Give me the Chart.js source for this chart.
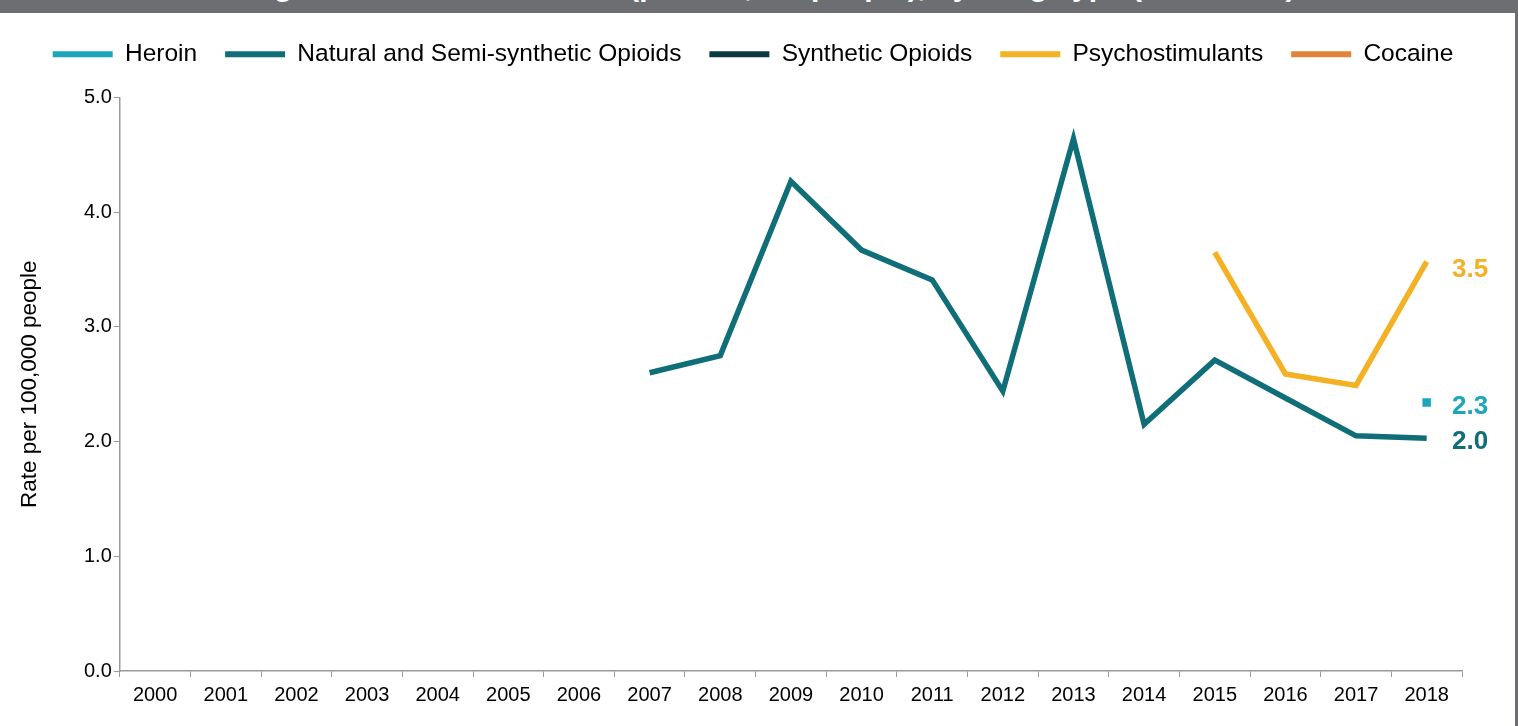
<!DOCTYPE html>
<html>
<head>
<meta charset="utf-8">
<script src="https://cdn.jsdelivr.net/npm/chart.js@4.4.1/dist/chart.umd.min.js"></script>
<style>
    html, body { margin: 0; padding: 0; background: #fff; }
    #wrap { position: relative; width: 1518px; height: 726px; overflow: hidden; }
    #titleBar { position: absolute; left: 0; top: 0; width: 1518px; height: 13px; background: #6d6e72; overflow: hidden; z-index: 2; }
    #titleBar span { position: absolute; left: 0; width: 1518px; text-align: center; bottom: 10px; line-height: 30px;
        font: bold 30px "Liberation Sans", Arial, sans-serif; color: #fff; white-space: nowrap; }
    #rightEdge { position: absolute; right: 0; top: 0; width: 3px; height: 726px; background: #6d6e72; z-index: 2; }
    #chartBox { position: absolute; left: 0; top: 0; width: 1515px; height: 726px; }
</style>
</head>
<body>
<div id="wrap">
    <div id="titleBar"><span>Drug Overdose Death Rates (per 100,000 people), by Drug Type (2000-2018)</span></div>
    <div id="rightEdge"></div>
    <div id="chartBox"><canvas id="rateChart"></canvas></div>
</div>
<script>
const years = ['2000', '2001', '2002', '2003', '2004', '2005', '2006', '2007', '2008', '2009',
    '2010', '2011', '2012', '2013', '2014', '2015', '2016', '2017', '2018'];

const heroin = [null, null, null, null, null, null, null, null, null, null,
    null, null, null, null, null, null, null, null, 2.34];
const naturalSemiSynthetic = [null, null, null, null, null, null, null, 2.60, 2.75, 4.27,
    3.67, 3.41, 2.44, 4.64, 2.15, 2.71, 2.38, 2.05, 2.03];
const syntheticOpioids = [null, null, null, null, null, null, null, null, null, null,
    null, null, null, null, null, null, null, null, null];
const psychostimulants = [null, null, null, null, null, null, null, null, null, null,
    null, null, null, null, null, 3.65, 2.59, 2.49, 3.57];
const cocaine = [null, null, null, null, null, null, null, null, null, null,
    null, null, null, null, null, null, null, null, null];

const yTicks = [0, 1, 2, 3, 4, 5];

// labels shown at the right end of the lines
const endLabels = [
    { text: '3.5', value: 3.5, color: '#f4b124' },
    { text: '2.3', value: 2.3, color: '#1ca6bc' },
    { text: '2.0', value: 2.0, color: '#0f6e78' }
];

const FONT = '"Liberation Sans", Arial, sans-serif';

function makeSet(label, data, color, extra) {
    return Object.assign({
        label: label,
        data: data,
        borderColor: color,
        backgroundColor: color,
        borderWidth: 5.5,
        pointRadius: 0,
        pointHoverRadius: 0,
        spanGaps: false,
        tension: 0
    }, extra || {});
}

// extra room under the legend, and nudge it to the right
const legendSpacer = {
    id: 'legendSpacer',
    beforeInit(chart) {
        const fit = chart.legend.fit;
        chart.legend.fit = function () {
            fit.bind(chart.legend)();
            this.height += 21;
        };
    },
    afterLayout(chart) {
        chart.legend.left += 22;
        chart.legend.right += 22;
    }
};

const endLabelPlugin = {
    id: 'endLabels',
    afterDatasetsDraw(chart) {
        const ctx = chart.ctx;
        const y = chart.scales.y;
        ctx.save();
        ctx.font = 'bold 26px ' + FONT;
        ctx.textAlign = 'left';
        ctx.textBaseline = 'middle';
        endLabels.forEach(l => {
            ctx.fillStyle = l.color;
            ctx.fillText(l.text, chart.chartArea.right - 10, y.getPixelForValue(l.value));
        });
        ctx.restore();
    }
};

const ctx = document.getElementById('rateChart').getContext('2d');
new Chart(ctx, {
    type: 'line',
    data: {
        labels: years,
        datasets: [
            makeSet('Heroin', heroin, '#1ca6bc', { pointRadius: 6, pointStyle: 'rect', pointBorderWidth: 0 }),
            makeSet('Natural and Semi-synthetic Opioids', naturalSemiSynthetic, '#0f6e78'),
            makeSet('Synthetic Opioids', syntheticOpioids, '#0b3a40'),
            makeSet('Psychostimulants', psychostimulants, '#f4b124'),
            makeSet('Cocaine', cocaine, '#e3833a')
        ]
    },
    options: {
        responsive: true,
        maintainAspectRatio: false,
        animation: false,
        layout: { padding: { top: 14, left: 0, right: 53, bottom: 13 } },
        plugins: {
            legend: {
                display: true,
                position: 'top',
                labels: {
                    color: '#000',
                    font: { family: FONT, size: 24.5 },
                    boxWidth: 60,
                    boxHeight: 6,
                    padding: 28,
                    generateLabels: function (chart) {
                        return Chart.defaults.plugins.legend.labels.generateLabels(chart)
                            .map(item => Object.assign(item, { lineWidth: 0 }));
                    }
                }
            },
            tooltip: { enabled: false }
        },
        scales: {
            x: {
                offset: true,
                grid: { display: true, drawOnChartArea: false, drawTicks: true, tickLength: 6, color: '#999', offset: true },
                border: { display: true, color: '#999', width: 1.5 },
                ticks: { color: '#000', font: { family: FONT, size: 20 }, padding: 6, maxRotation: 0, autoSkip: false }
            },
            y: {
                min: 0,
                max: 5,
                afterBuildTicks: axis => { axis.ticks = yTicks.map(v => ({ value: v })); },
                grid: { display: true, drawOnChartArea: false, drawTicks: true, tickLength: 6, color: '#999' },
                border: { display: true, color: '#999', width: 1.5 },
                ticks: {
                    color: '#000',
                    font: { family: FONT, size: 20 },
                    padding: 2,
                    callback: value => Number(value).toFixed(1)
                },
                title: {
                    display: true,
                    text: 'Rate per 100,000 people',
                    color: '#000',
                    font: { family: FONT, size: 22.5 },
                    padding: { top: 16.5, bottom: 38.5 }
                }
            }
        }
    },
    plugins: [legendSpacer, endLabelPlugin]
});
</script>
</body>
</html>
